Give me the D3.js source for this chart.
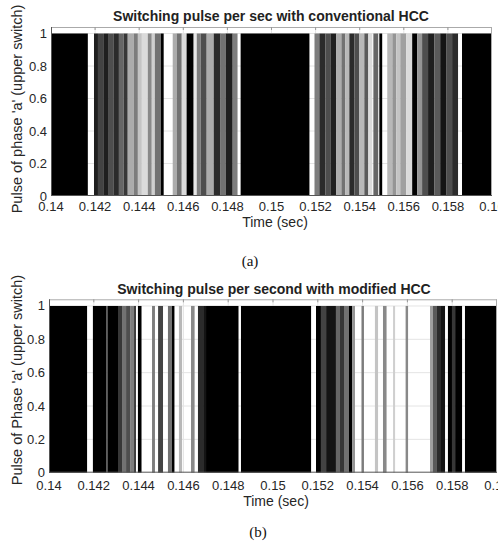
<!DOCTYPE html>
<html><head><meta charset="utf-8">
<script src="https://cdn.jsdelivr.net/npm/d3@7"></script>
<style>html,body{margin:0;padding:0;background:#fff;overflow:hidden}</style>
</head><body>
<svg id="chart" width="498" height="546"></svg>
<script>
// ---- DATA ----
// Pulse bands: [start time (s), end time (s), mean pulse level (duty) within band]
const pulsesConventional = [
 [0.14000,0.14167,1],[0.14195,0.14213,0.9],[0.14213,0.14240,0.75],[0.14240,0.14262,0.9],
 [0.14262,0.14285,0.7],[0.14285,0.14308,0.85],[0.14308,0.14330,0.6],[0.14330,0.14348,0.8],
 [0.14348,0.14376,0.3],[0.14376,0.14394,0.5],[0.14394,0.14412,0.2],[0.14412,0.14439,0.1],
 [0.14439,0.14457,0.45],[0.14457,0.14471,0.15],[0.14471,0.14498,0.55],[0.14498,0.14511,1],
 [0.14552,0.14570,0.3],[0.14570,0.14593,0.55],[0.14593,0.14615,0.1],[0.14615,0.14647,1],
 [0.14647,0.14661,0.05],[0.14661,0.14679,0.5],[0.14679,0.14706,0.7],[0.14706,0.14738,0.3],
 [0.14738,0.14769,0.85],[0.14769,0.14792,0.55],[0.14792,0.14824,0.9],[0.14824,0.14846,0.5],
 [0.14860,0.15172,1],
 [0.15195,0.15217,0.5],[0.15217,0.15244,0.85],[0.15244,0.15267,0.7],[0.15267,0.15294,0.9],
 [0.15294,0.15317,0.3],[0.15317,0.15335,0.55],[0.15335,0.15353,0.25],[0.15353,0.15376,0.85],
 [0.15376,0.15398,0.7],[0.15398,0.15421,0.25],[0.15421,0.15439,0.65],[0.15439,0.15457,0.1],
 [0.15462,0.15484,0.6],[0.15489,0.15502,1],
 [0.15525,0.15548,0.25],[0.15548,0.15566,0.4],[0.15566,0.15584,0.2],[0.15584,0.15611,0.35],
 [0.15611,0.15638,0.1],[0.15638,0.15661,1],[0.15661,0.15683,0.4],[0.15683,0.15710,0.7],
 [0.15710,0.15738,0.9],[0.15738,0.15765,0.65],[0.15765,0.15792,0.95],[0.15792,0.15819,0.7],
 [0.15819,0.15846,0.85],
 [0.15864,0.16000,1]
];
const pulsesModified = [
 [0.14000,0.14170,1],[0.14196,0.14255,1],[0.14255,0.14263,0.7],[0.14263,0.14308,1],
 [0.14308,0.14326,0.8],[0.14326,0.14344,0.55],[0.14344,0.14362,0.7],[0.14362,0.14380,0.5],
 [0.14380,0.14388,0.85],[0.14397,0.14413,1],[0.14460,0.14473,0.5],[0.14487,0.14509,0.75],
 [0.14531,0.14549,0.55],[0.14549,0.14560,1],[0.14580,0.14594,0.25],[0.14634,0.14650,0.45],
 [0.14665,0.14688,0.85],[0.14688,0.14701,0.95],[0.14701,0.14846,1],
 [0.14857,0.15170,1],
 [0.15192,0.15214,1],[0.15214,0.15237,0.75],[0.15237,0.15281,0.95],[0.15281,0.15299,0.6],
 [0.15299,0.15317,0.8],[0.15317,0.15339,0.55],[0.15339,0.15353,1],[0.15353,0.15366,0.4],
 [0.15395,0.15406,0.5],[0.15455,0.15469,0.2],[0.15491,0.15507,0.45],[0.15536,0.15545,0.15],
 [0.15592,0.15603,0.45],
 [0.15701,0.15714,0.35],[0.15714,0.15732,0.65],[0.15732,0.15750,0.85],[0.15750,0.15768,0.95],
 [0.15781,0.15799,1],[0.15799,0.15813,0.8],[0.15813,0.15844,1],
 [0.15857,0.16000,1]
];
const xTicks = [0.14,0.142,0.144,0.146,0.148,0.15,0.152,0.154,0.156,0.158,0.16];
const xTickLabels = ["0.14","0.142","0.144","0.146","0.148","0.15","0.152","0.154","0.156","0.158","0.16"];
const yTicks = [0,0.2,0.4,0.6,0.8,1];
const yTickLabels = ["0","0.2","0.4","0.6","0.8","1"];
const titles = ["Switching pulse per sec with conventional HCC","Switching pulse per second with modified HCC"];
const yLabels = ["Pulse of phase 'a' (upper switch)","Pulse of Phase 'a' (upper switch)"];
const xLabel = "Time (sec)";
const captions = ["(a)","(b)"];

// ---- LAYOUT ----
const panels = [
  {data:pulsesConventional, x0:51, x1:492, yTop:27, yBot:196, titleY:21, tickY:211, xlabY:227, xlabX:275, capY:266, capX:250, ylabY:109, title:titles[0], ylab:yLabels[0], cap:captions[0], titleX:271},
  {data:pulsesModified, x0:49, x1:497, yTop:299.3, yBot:472.7, titleY:294, tickY:490, xlabY:506, xlabX:276, capY:537, capX:258, ylabY:380, title:titles[1], ylab:yLabels[1], cap:captions[1], titleX:274}
];
const svg = d3.select("#chart");
const font = "'Liberation Sans', Arial, Helvetica, sans-serif";

panels.forEach(p => {
  const x = d3.scaleLinear().domain([0.14,0.16]).range([p.x0,p.x1]);
  const y = d3.scaleLinear().domain([0,1.04]).range([p.yBot,p.yTop]);
  const g = svg.append("g");
  // grid
  g.selectAll(".hg").data(yTicks.slice(1)).enter().append("line")
    .attr("x1",p.x0).attr("x2",p.x1).attr("y1",d=>y(d)).attr("y2",d=>y(d))
    .attr("stroke","#e4e4e4").attr("stroke-width",1);
  g.selectAll(".vg").data(xTicks.slice(1,-1)).enter().append("line")
    .attr("y1",p.yTop).attr("y2",p.yBot).attr("x1",d=>x(d)).attr("x2",d=>x(d))
    .attr("stroke","#e4e4e4").attr("stroke-width",1);
  // pulse bands
  g.selectAll(".band").data(p.data).enter().append("rect")
    .attr("x",d=>x(d[0])).attr("width",d=>x(d[1])-x(d[0]))
    .attr("y",y(1)).attr("height",y(0)-y(1))
    .attr("fill",d=>{const v=Math.round(255*(1-d[2])*0.92+ (d[2]<1?8:0)); return d3.rgb(v,v,v).toString();});
  // box
  g.append("line").attr("x1",p.x0).attr("x2",p.x1).attr("y1",p.yTop+0.5).attr("y2",p.yTop+0.5)
    .attr("stroke","#aaaaaa").attr("stroke-width",1);
  g.append("line").attr("x1",p.x1-0.5).attr("x2",p.x1-0.5).attr("y1",p.yTop).attr("y2",p.yBot)
    .attr("stroke","#aaaaaa").attr("stroke-width",1);
  g.append("line").attr("x1",p.x0+0.5).attr("x2",p.x0+0.5).attr("y1",p.yTop).attr("y2",p.yBot)
    .attr("stroke","#555").attr("stroke-width",1);
  g.append("line").attr("x1",p.x0).attr("x2",p.x1).attr("y1",p.yBot-0.5).attr("y2",p.yBot-0.5)
    .attr("stroke","#555").attr("stroke-width",1);
  // top tick marks
  g.selectAll(".tt").data(xTicks.slice(1,-1)).enter().append("line")
    .attr("x1",d=>x(d)).attr("x2",d=>x(d)).attr("y1",p.yTop).attr("y2",p.yTop+3)
    .attr("stroke","#999");
  // x tick labels
  g.selectAll(".xl").data(xTicks).enter().append("text")
    .attr("x",d=>x(d)).attr("y",p.tickY).attr("text-anchor","middle")
    .attr("font-family",font).attr("font-size","13px").attr("fill","#262626")
    .text((d,i)=>xTickLabels[i]);
  // y tick labels
  g.selectAll(".yl").data(yTicks).enter().append("text")
    .attr("x",p.x0-4).attr("y",d=>y(d)+4.5).attr("text-anchor","end")
    .attr("font-family",font).attr("font-size","13px").attr("fill","#262626")
    .text((d,i)=>yTickLabels[i]);
  // title
  g.append("text").attr("x",p.titleX).attr("y",p.titleY).attr("text-anchor","middle")
    .attr("font-family",font).attr("font-size","14px").attr("font-weight","bold").attr("fill","#222")
    .text(p.title);
  // x label
  g.append("text").attr("x",p.xlabX).attr("y",p.xlabY).attr("text-anchor","middle")
    .attr("font-family",font).attr("font-size","14px").attr("fill","#262626").text(xLabel);
  // y label
  g.append("text").attr("transform",`translate(22,${p.ylabY}) rotate(-90)`).attr("text-anchor","middle")
    .attr("font-family",font).attr("font-size","14.5px").attr("fill","#262626").text(p.ylab);
  // caption
  g.append("text").attr("x",p.capX).attr("y",p.capY).attr("text-anchor","middle")
    .attr("font-family","'Liberation Serif','Times New Roman',serif").attr("font-size","15px").attr("fill","#111")
    .text(p.cap);
});
</script>
</body></html>
